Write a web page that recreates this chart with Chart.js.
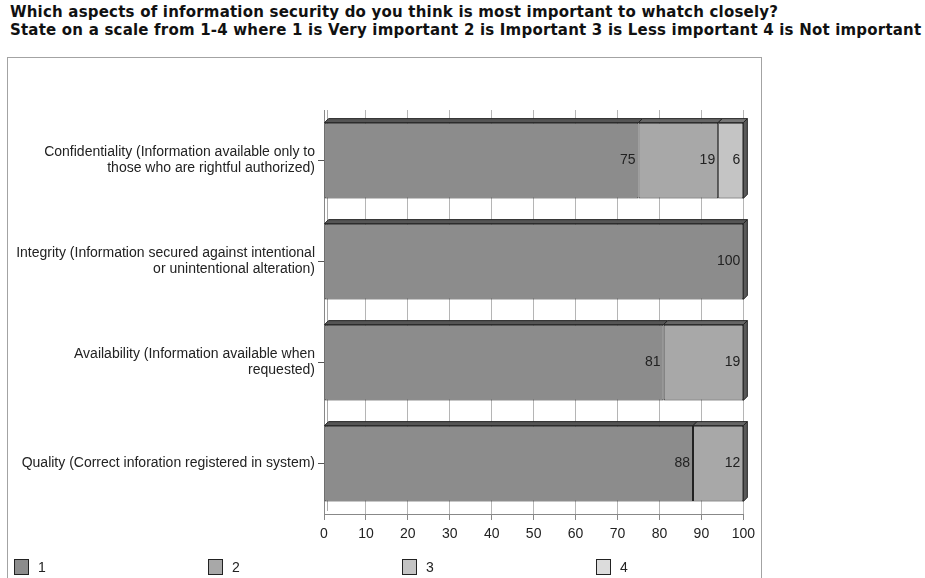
<!DOCTYPE html>
<html>
<head>
<meta charset="utf-8">
<script src="https://cdn.jsdelivr.net/npm/chart.js@4.4.1/dist/chart.umd.min.js"></script>
<style>
    body { margin: 0; background: #fff; width: 925px; height: 578px; overflow: hidden; position: relative; }
    .title {
        position: absolute; left: 10px; top: 3px;
        font: bold 15px "DejaVu Sans", Verdana, sans-serif; color: #111; line-height: 18px;
        letter-spacing: 0.2px; white-space: nowrap;
    }
    .frame {
        position: absolute; left: 7px; top: 57px; width: 753px; height: 540px;
        border: 1px solid #a3a3a3;
    }
    .frame canvas { position: absolute; left: 0; top: 0; }
</style>
</head>
<body>
<div class="title">
    Which aspects of information security do you think is most important to whatch closely?<br>
    State on a scale from 1-4 where 1 is Very important 2 is Important 3 is Less important 4 is Not important
</div>
<div class="frame">
    <canvas id="chart" width="753" height="520"></canvas>
</div>
<script>
// =============================================
// Survey answers — stacked horizontal bars
// =============================================

const CATEGORIES = [
    ["Confidentiality (Information available only to", "those who are rightful authorized)"],
    ["Integrity (Information secured against intentional", "or unintentional alteration)"],
    ["Availability (Information available when", "requested)"],
    ["Quality (Correct inforation registered in system)"],
];

const SERIES_NAMES = ["1", "2", "3", "4"];
const SCORE_1 = [75, 100, 81, 88];
const SCORE_2 = [19, 0, 19, 12];
const SCORE_3 = [6, 0, 0, 0];
const SCORE_4 = [0, 0, 0, 0];

const X_TICKS = [0, 10, 20, 30, 40, 50, 60, 70, 80, 90, 100];

const FILLS = ["#8c8c8c", "#a8a8a8", "#c4c4c4", "#dcdcdc"];
const TOPS = ["#555555", "#666666", "#777777", "#888888"];
const DEPTH = 4;
const FONT = "'Liberation Sans', Arial, sans-serif";

// fake 3D: top face on every segment, side face on the last one of each row
const bar3d = {
    id: "bar3d",
    beforeDatasetsDraw(chart) {
        // second line of the left wall
        const { ctx, chartArea } = chart;
        ctx.save();
        ctx.strokeStyle = "#aaa";
        ctx.beginPath();
        ctx.moveTo(chartArea.left + 3.5, chartArea.top);
        ctx.lineTo(chartArea.left + 3.5, chartArea.bottom - 3);
        ctx.stroke();
        ctx.restore();
    },
    afterDatasetsDraw(chart) {
        const ctx = chart.ctx;
        const metas = chart.getSortedVisibleDatasetMetas();
        ctx.save();
        ctx.strokeStyle = "#222";
        ctx.lineWidth = 1;
        metas.forEach((meta, di) => {
            meta.data.forEach((bar, i) => {
                const v = chart.data.datasets[di].data[i];
                if (!v) return;
                const { x, y, base, height } = bar.getProps(["x", "y", "base", "height"], true);
                const top = y - height / 2, bottom = y + height / 2;
                ctx.fillStyle = TOPS[di];
                ctx.beginPath();
                ctx.moveTo(base, top);
                ctx.lineTo(base + DEPTH, top - DEPTH);
                ctx.lineTo(x + DEPTH, top - DEPTH);
                ctx.lineTo(x, top);
                ctx.closePath();
                ctx.fill();
                ctx.stroke();
                const isLast = metas.slice(di + 1).every(m => !chart.data.datasets[m.index].data[i]);
                if (isLast) {
                    ctx.fillStyle = "#5a5a5a";
                    ctx.beginPath();
                    ctx.moveTo(x, top);
                    ctx.lineTo(x + DEPTH, top - DEPTH);
                    ctx.lineTo(x + DEPTH, bottom - DEPTH);
                    ctx.lineTo(x, bottom);
                    ctx.closePath();
                    ctx.fill();
                    ctx.stroke();
                }
                // value label at the inner right end of the segment
                ctx.fillStyle = "#222";
                ctx.font = "14px " + FONT;
                ctx.textAlign = "right";
                ctx.textBaseline = "middle";
                ctx.fillText(String(v), x - 3, y);
            });
        });
        ctx.restore();
    },
    // legend spread across the frame bottom
    afterDraw(chart) {
        const ctx = chart.ctx;
        ctx.save();
        ctx.font = "14px " + FONT;
        ctx.textBaseline = "middle";
        ctx.textAlign = "left";
        chart.data.datasets.forEach((ds, i) => {
            const bx = 6 + i * 194, by = 501;
            ctx.fillStyle = ds.backgroundColor;
            ctx.fillRect(bx, by, 15, 16);
            ctx.strokeStyle = "#222";
            ctx.strokeRect(bx + 0.5, by + 0.5, 14, 15);
            ctx.fillStyle = "#222";
            ctx.fillText(ds.label, bx + 24, by + 9);
        });
        ctx.restore();
    },
};

const seriesData = [SCORE_1, SCORE_2, SCORE_3, SCORE_4];

new Chart(document.getElementById("chart"), {
    type: "bar",
    data: {
        labels: CATEGORIES,
        datasets: seriesData.map((d, i) => ({
            label: SERIES_NAMES[i],
            data: d,
            backgroundColor: FILLS[i],
            borderColor: "#222",
            borderWidth: c => (c.raw ? 1 : 0),
            borderSkipped: false,
            barPercentage: 0.75,
            categoryPercentage: 1.0,
        })),
    },
    options: {
        responsive: false,
        animation: false,
        indexAxis: "y",
        layout: { padding: { top: 52, right: 16, left: 0, bottom: 34 } },
        plugins: {
            legend: { display: false },
            tooltip: { enabled: false },
        },
        scales: {
            x: {
                stacked: true,
                min: 0,
                max: 100,
                afterBuildTicks: s => { s.ticks = X_TICKS.map(v => ({ value: v })); },
                afterFit: s => { s.height = 30; },
                ticks: { color: "#222", font: { family: FONT, size: 14 }, padding: 6, maxRotation: 0 },
                grid: { color: "#b5b5b5", tickLength: 6, tickColor: "#888" },
                border: { color: "#888" },
            },
            y: {
                stacked: true,
                afterFit: s => { s.width = 316; },
                ticks: { color: "#222", font: { family: FONT, size: 14, lineHeight: 1.15 }, padding: 3 },
                grid: { offset: false, drawOnChartArea: false, tickLength: 6, tickColor: "#555" },
                border: { color: "#888" },
            },
        },
    },
    plugins: [bar3d],
});
</script>
</body>
</html>
